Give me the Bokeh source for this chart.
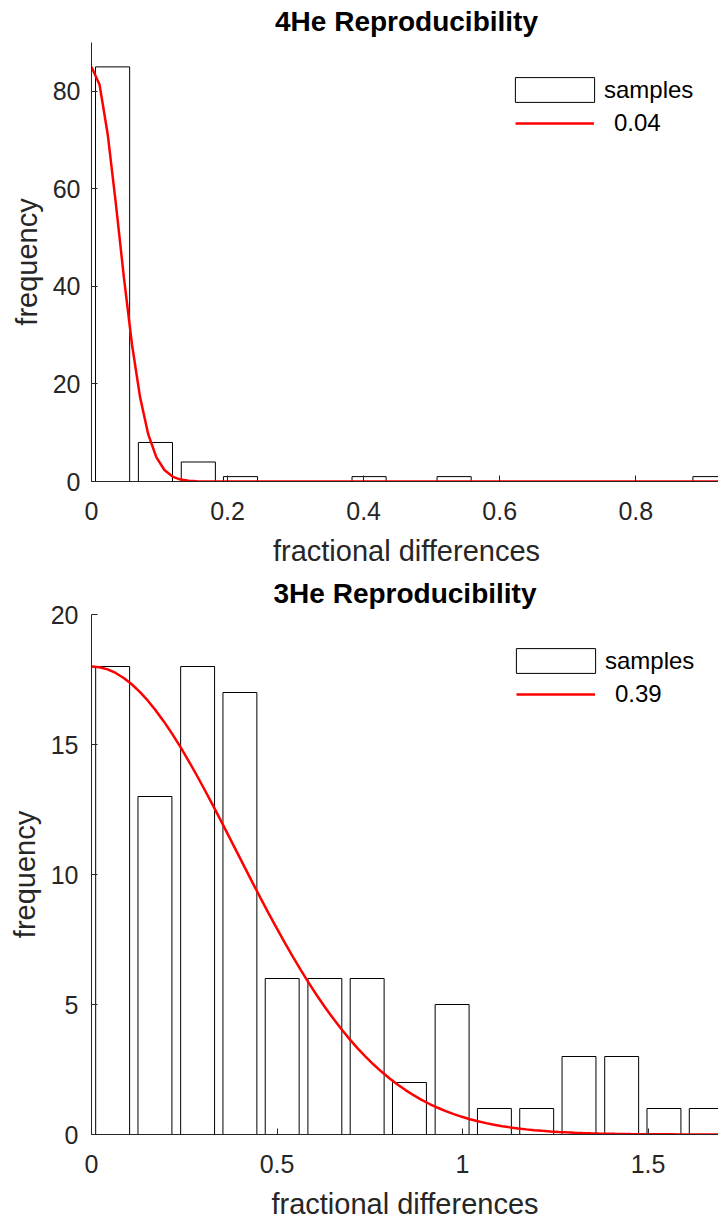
import numpy as np
from bokeh.plotting import figure
from bokeh.models import Range1d, FixedTicker, Legend, LegendItem, Title
from bokeh.layouts import column
from bokeh.embed import file_html
from bokeh.resources import INLINE

# ---------------- data ----------------
he4_title = "4He Reproducibility"
he4_bin_centers = [0.031, 0.094, 0.157, 0.219, 0.282, 0.345, 0.408, 0.470,
                   0.533, 0.596, 0.658, 0.721, 0.784, 0.847, 0.909]
he4_counts = [85, 8, 4, 1, 0, 0, 1, 0, 1, 0, 0, 0, 0, 0, 1]
he4_bin_width = 0.0627
he4_sigma = 0.04
he4_sigma_label = "0.04"
he4_xticks = [0, 0.2, 0.4, 0.6, 0.8]
he4_xtick_labels = ["0", "0.2", "0.4", "0.6", "0.8"]
he4_yticks = [0, 20, 40, 60, 80]

he3_title = "3He Reproducibility"
he3_bin_centers = [0.057, 0.171, 0.286, 0.400, 0.514, 0.629, 0.743, 0.857,
                   0.972, 1.086, 1.200, 1.314, 1.429, 1.543, 1.657]
he3_counts = [18, 13, 18, 17, 6, 6, 6, 2, 5, 1, 1, 3, 3, 1, 1]
he3_bin_width = 0.1143
he3_sigma = 0.39
he3_sigma_label = "0.39"
he3_xticks = [0, 0.5, 1, 1.5]
he3_xtick_labels = ["0", "0.5", "1", "1.5"]
he3_yticks = [0, 5, 10, 15, 20]

FONT = "Liberation Sans"
AX = "#262626"


def make_panel(title, centers, counts, bw, sigma, sigma_label, xticks, xlabels,
               yticks, x_end, y_end, fw, fh, b_left, b_top, b_bottom,
               ytick_standoff, legA, legB):
    p = figure(frame_width=fw, frame_height=fh, x_range=Range1d(0, x_end),
               y_range=Range1d(0, y_end), output_backend="svg",
               toolbar_location=None, min_border_left=b_left,
               min_border_right=0, min_border_top=b_top,
               min_border_bottom=b_bottom)
    p.outline_line_color = None
    p.grid.visible = False
    p.background_fill_color = "white"

    bars = p.vbar(x=centers, top=counts, width=0.8 * bw, bottom=0,
                  fill_color="white", line_color="black", line_width=1)

    xs = np.linspace(0, len(centers) * bw, 80)
    ys = counts[0] * np.exp(-xs ** 2 / (2 * sigma ** 2))
    curve = p.line(xs, ys, line_color="red", line_width=2.5)

    p.title.text = title
    p.title.align = "center"
    p.title.vertical_align = "top"
    p.title.text_font = FONT
    p.title.text_font_size = "28px"
    p.title.text_font_style = "bold"
    p.title.text_color = "black"
    p.title.standoff = 8

    for ax in (p.xaxis[0], p.yaxis[0]):
        ax.axis_line_color = AX
        ax.axis_line_width = 1
        ax.major_tick_line_color = AX
        ax.major_tick_in = 6
        ax.major_tick_out = 0
        ax.minor_tick_line_color = None
        ax.major_label_text_font = FONT
        ax.major_label_text_font_size = "25px"
        ax.major_label_text_color = AX
        ax.axis_label_text_font = FONT
        ax.axis_label_text_font_size = "29px"
        ax.axis_label_text_font_style = "normal"
        ax.axis_label_text_color = AX

    p.xaxis.ticker = FixedTicker(ticks=xticks)
    p.xaxis.major_label_overrides = dict(zip(xticks, xlabels))
    p.xaxis.axis_label = "fractional differences"
    p.xaxis.major_label_standoff = 20
    p.xaxis.axis_label_standoff = 12

    p.yaxis.ticker = FixedTicker(ticks=yticks)
    p.yaxis.major_label_standoff = ytick_standoff
    ylab = Title(text="frequency", align="center", vertical_align="top",
                 text_font=FONT, text_font_size="29px",
                 text_font_style="normal", text_color=AX, standoff=9)
    p.add_layout(ylab, "left")

    la = Legend(items=[LegendItem(label="samples", renderers=[bars])],
                location=legA, glyph_width=99, glyph_height=31,
                label_standoff=0, padding=0, margin=0, spacing=0,
                border_line_color=None, background_fill_alpha=0,
                label_text_font=FONT, label_text_font_size="24px",
                label_text_color="black")
    lb = Legend(items=[LegendItem(label=sigma_label, renderers=[curve])],
                location=legB, glyph_width=79, glyph_height=30,
                label_standoff=20, padding=0, margin=0, spacing=0,
                border_line_color=None, background_fill_alpha=0,
                label_text_font=FONT, label_text_font_size="24px",
                label_text_color="black")
    p.add_layout(la, "center")
    p.add_layout(lb, "center")
    return p


p1 = make_panel(he4_title, he4_bin_centers, he4_counts, he4_bin_width,
                he4_sigma, he4_sigma_label, he4_xticks, he4_xtick_labels,
                he4_yticks, 0.926, 90, 630, 439, 88, 42, 100, 11,
                (419, 376), (429, 343))
p2 = make_panel(he3_title, he3_bin_centers, he3_counts, he3_bin_width,
                he3_sigma, he3_sigma_label, he3_xticks, he3_xtick_labels,
                he3_yticks, 1.69, 20, 627, 520, 91, 48, 84, 13,
                (415, 458), (425, 425))
p2.border_fill_alpha = 0
p2.margin = (-15, 0, 0, 0)

layout = column(p1, p2, spacing=0)
open("out.html", "w").write(file_html(layout, INLINE))
